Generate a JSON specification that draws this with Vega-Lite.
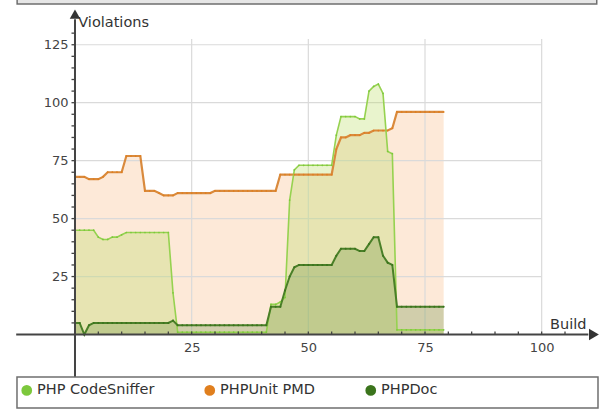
{
  "$schema": "https://vega.github.io/schema/vega-lite/v6.json",
  "width": 605,
  "height": 412,
  "autosize": {"type": "none"},
  "padding": 0,
  "background": "white",
  "config": {
    "view": {"stroke": null},
    "font": "DejaVu Sans",
    "text": {"font": "DejaVu Sans"},
    "axis": {"domain": false, "grid": false, "ticks": false, "titleOpacity": 0, "labelFont": "DejaVu Sans", "labelOverlap": false, "labelFlush": false}
  },
  "data": {
    "values": [
      {"b": 0, "pmd": 68, "cs": 45, "doc": 5},
      {"b": 1, "pmd": 68, "cs": 45, "doc": 5},
      {"b": 2, "pmd": 68, "cs": 45, "doc": 0},
      {"b": 3, "pmd": 67, "cs": 45, "doc": 4},
      {"b": 4, "pmd": 67, "cs": 45, "doc": 5},
      {"b": 5, "pmd": 67, "cs": 42, "doc": 5},
      {"b": 6, "pmd": 68, "cs": 41, "doc": 5},
      {"b": 7, "pmd": 70, "cs": 41, "doc": 5},
      {"b": 8, "pmd": 70, "cs": 42, "doc": 5},
      {"b": 9, "pmd": 70, "cs": 42, "doc": 5},
      {"b": 10, "pmd": 70, "cs": 43, "doc": 5},
      {"b": 11, "pmd": 77, "cs": 44, "doc": 5},
      {"b": 12, "pmd": 77, "cs": 44, "doc": 5},
      {"b": 13, "pmd": 77, "cs": 44, "doc": 5},
      {"b": 14, "pmd": 77, "cs": 44, "doc": 5},
      {"b": 15, "pmd": 62, "cs": 44, "doc": 5},
      {"b": 16, "pmd": 62, "cs": 44, "doc": 5},
      {"b": 17, "pmd": 62, "cs": 44, "doc": 5},
      {"b": 18, "pmd": 61, "cs": 44, "doc": 5},
      {"b": 19, "pmd": 60, "cs": 44, "doc": 5},
      {"b": 20, "pmd": 60, "cs": 44, "doc": 5},
      {"b": 21, "pmd": 60, "cs": 18, "doc": 6},
      {"b": 22, "pmd": 61, "cs": 1, "doc": 4},
      {"b": 23, "pmd": 61, "cs": 1, "doc": 4},
      {"b": 24, "pmd": 61, "cs": 1, "doc": 4},
      {"b": 25, "pmd": 61, "cs": 1, "doc": 4},
      {"b": 26, "pmd": 61, "cs": 1, "doc": 4},
      {"b": 27, "pmd": 61, "cs": 1, "doc": 4},
      {"b": 28, "pmd": 61, "cs": 1, "doc": 4},
      {"b": 29, "pmd": 61, "cs": 1, "doc": 4},
      {"b": 30, "pmd": 62, "cs": 1, "doc": 4},
      {"b": 31, "pmd": 62, "cs": 1, "doc": 4},
      {"b": 32, "pmd": 62, "cs": 1, "doc": 4},
      {"b": 33, "pmd": 62, "cs": 1, "doc": 4},
      {"b": 34, "pmd": 62, "cs": 1, "doc": 4},
      {"b": 35, "pmd": 62, "cs": 1, "doc": 4},
      {"b": 36, "pmd": 62, "cs": 1, "doc": 4},
      {"b": 37, "pmd": 62, "cs": 1, "doc": 4},
      {"b": 38, "pmd": 62, "cs": 1, "doc": 4},
      {"b": 39, "pmd": 62, "cs": 1, "doc": 4},
      {"b": 40, "pmd": 62, "cs": 1, "doc": 4},
      {"b": 41, "pmd": 62, "cs": 1, "doc": 4},
      {"b": 42, "pmd": 62, "cs": 13, "doc": 12},
      {"b": 43, "pmd": 62, "cs": 13, "doc": 12},
      {"b": 44, "pmd": 69, "cs": 14, "doc": 12},
      {"b": 45, "pmd": 69, "cs": 16, "doc": 19},
      {"b": 46, "pmd": 69, "cs": 58, "doc": 25},
      {"b": 47, "pmd": 69, "cs": 71, "doc": 29},
      {"b": 48, "pmd": 69, "cs": 73, "doc": 30},
      {"b": 49, "pmd": 69, "cs": 73, "doc": 30},
      {"b": 50, "pmd": 69, "cs": 73, "doc": 30},
      {"b": 51, "pmd": 69, "cs": 73, "doc": 30},
      {"b": 52, "pmd": 69, "cs": 73, "doc": 30},
      {"b": 53, "pmd": 69, "cs": 73, "doc": 30},
      {"b": 54, "pmd": 69, "cs": 73, "doc": 30},
      {"b": 55, "pmd": 69, "cs": 73, "doc": 30},
      {"b": 56, "pmd": 80, "cs": 86, "doc": 34},
      {"b": 57, "pmd": 85, "cs": 94, "doc": 37},
      {"b": 58, "pmd": 85, "cs": 94, "doc": 37},
      {"b": 59, "pmd": 86, "cs": 94, "doc": 37},
      {"b": 60, "pmd": 86, "cs": 94, "doc": 37},
      {"b": 61, "pmd": 86, "cs": 93, "doc": 36},
      {"b": 62, "pmd": 87, "cs": 93, "doc": 36},
      {"b": 63, "pmd": 87, "cs": 105, "doc": 39},
      {"b": 64, "pmd": 88, "cs": 107, "doc": 42},
      {"b": 65, "pmd": 88, "cs": 108, "doc": 42},
      {"b": 66, "pmd": 88, "cs": 104, "doc": 34},
      {"b": 67, "pmd": 88, "cs": 79, "doc": 31},
      {"b": 68, "pmd": 89, "cs": 78, "doc": 30},
      {"b": 69, "pmd": 96, "cs": 2, "doc": 12},
      {"b": 70, "pmd": 96, "cs": 2, "doc": 12},
      {"b": 71, "pmd": 96, "cs": 2, "doc": 12},
      {"b": 72, "pmd": 96, "cs": 2, "doc": 12},
      {"b": 73, "pmd": 96, "cs": 2, "doc": 12},
      {"b": 74, "pmd": 96, "cs": 2, "doc": 12},
      {"b": 75, "pmd": 96, "cs": 2, "doc": 12},
      {"b": 76, "pmd": 96, "cs": 2, "doc": 12},
      {"b": 77, "pmd": 96, "cs": 2, "doc": 12},
      {"b": 78, "pmd": 96, "cs": 2, "doc": 12},
      {"b": 79, "pmd": 96, "cs": 2, "doc": 12}
    ]
  },
  "layer": [
    {
      "mark": {"type": "area", "color": "#f7a25a", "fillOpacity": 0.24},
      "encoding": {
        "x": {"field": "b", "type": "quantitative", "scale": {"domain": [-16.07, 113.57], "nice": false, "zero": false},
          "axis": {"orient": "bottom", "offset": -77.5, "values": [25, 50, 75, 100],
            "domain": false, "grid": false, "ticks": false, "labelFontSize": 13,
            "labelColor": "#444", "labelPadding": 7, "title": null, "labelFlush": false, "labelOverlap": false, "labelFont": "DejaVu Sans", "zindex": 1}},
        "y": {"field": "pmd", "type": "quantitative", "scale": {"domain": [-33.43, 144.3], "nice": false, "zero": false},
          "axis": {"orient": "left", "offset": -75, "values": [25, 50, 75, 100, 125],
            "domain": false, "grid": false, "ticks": false, "labelFontSize": 13,
            "labelColor": "#444", "labelPadding": 7, "title": null, "labelFlush": false, "labelOverlap": false, "labelFont": "DejaVu Sans", "zindex": 1}},
        "y2": {"datum": 0}
      }
    },
    {
      "data": {"values": [{}]},
      "mark": {"type": "rect", "fill": "#e6e6e6", "stroke": "#6f6f6f", "strokeWidth": 1.5},
      "encoding": {
        "x": {"datum": -12.4, "type": "quantitative"},
        "x2": {"datum": 111.8},
        "y": {"datum": 142.6, "type": "quantitative"},
        "y2": {"datum": 150}
      }
    },
    {
      "data": {"values": [{"g": 25}, {"g": 50}, {"g": 75}, {"g": 100}]},
      "mark": {"type": "rule", "color": "#dadada", "strokeWidth": 1.2},
      "encoding": {
        "x": {"field": "g", "type": "quantitative"},
        "y": {"datum": 0, "type": "quantitative"},
        "y2": {"datum": 127.5}
      }
    },
    {
      "data": {"values": [{"g": 25}, {"g": 50}, {"g": 75}, {"g": 100}, {"g": 125}]},
      "mark": {"type": "rule", "color": "#dadada", "strokeWidth": 1.2},
      "encoding": {
        "y": {"field": "g", "type": "quantitative"},
        "x": {"datum": 0, "type": "quantitative"},
        "x2": {"datum": 100}
      }
    },
    {
      "mark": {"type": "area", "color": "#b5dc5a", "fillOpacity": 0.3},
      "encoding": {
        "x": {"field": "b", "type": "quantitative"},
        "y": {"field": "cs", "type": "quantitative"},
        "y2": {"datum": 0}
      }
    },
    {
      "mark": {"type": "area", "color": "#4e7e22", "fillOpacity": 0.25},
      "encoding": {
        "x": {"field": "b", "type": "quantitative"},
        "y": {"field": "doc", "type": "quantitative"},
        "y2": {"datum": 0}
      }
    },
    {
      "mark": {"type": "line", "color": "#d98a3d", "strokeWidth": 2.2},
      "encoding": {
        "x": {"field": "b", "type": "quantitative"},
        "y": {"field": "pmd", "type": "quantitative"}
      }
    },
    {
      "mark": {"type": "line", "color": "#96d250", "strokeWidth": 1.6},
      "encoding": {
        "x": {"field": "b", "type": "quantitative"},
        "y": {"field": "cs", "type": "quantitative"}
      }
    },
    {
      "mark": {"type": "line", "color": "#4a7f28", "strokeWidth": 2},
      "encoding": {
        "x": {"field": "b", "type": "quantitative"},
        "y": {"field": "doc", "type": "quantitative"}
      }
    },
    {
      "mark": {"type": "point", "filled": true, "size": 3, "opacity": 1},
      "encoding": {
        "x": {"field": "b", "type": "quantitative"},
        "y": {"field": "cs", "type": "quantitative"},
        "color": {"datum": "PHP CodeSniffer", "type": "nominal",
          "scale": {"domain": ["PHP CodeSniffer", "PHPUnit PMD", "PHPDoc"], "range": ["#7cc83c", "#e07f1e", "#3b741c"]},
          "legend": {"orient": "none", "legendX": 19.5, "legendY": 383, "direction": "horizontal", "columns": 3, "title": null,
            "symbolType": "circle", "symbolSize": 115, "symbolOpacity": 1, "symbolStrokeWidth": 0, "labelFontSize": 14.5, "labelColor": "#333",
            "labelFont": "DejaVu Sans", "labelOffset": 3, "columnPadding": 48, "padding": 0}}
      }
    },
    {
      "mark": {"type": "point", "filled": true, "size": 3, "opacity": 1},
      "encoding": {
        "x": {"field": "b", "type": "quantitative"},
        "y": {"field": "pmd", "type": "quantitative"},
        "color": {"datum": "PHPUnit PMD", "type": "nominal"}
      }
    },
    {
      "mark": {"type": "point", "filled": true, "size": 4, "opacity": 1},
      "encoding": {
        "x": {"field": "b", "type": "quantitative"},
        "y": {"field": "doc", "type": "quantitative"},
        "color": {"datum": "PHPDoc", "type": "nominal"}
      }
    },
    {
      "data": {"values": [{}]},
      "mark": {"type": "rule", "color": "#444", "strokeWidth": 2},
      "encoding": {
        "x": {"datum": -12.6, "type": "quantitative"},
        "x2": {"datum": 110},
        "y": {"datum": 0, "type": "quantitative"}
      }
    },
    {
      "data": {"values": [{}]},
      "mark": {"type": "rule", "color": "#444", "strokeWidth": 2},
      "encoding": {
        "x": {"datum": 0, "type": "quantitative"},
        "y": {"datum": -18.3, "type": "quantitative"},
        "y2": {"datum": 136}
      }
    },
    {
      "data": {"values": [{"t": 5}, {"t": 10}, {"t": 15}, {"t": 20}, {"t": 25}, {"t": 30}, {"t": 35}, {"t": 40}, {"t": 45}, {"t": 50}, {"t": 55}, {"t": 60}, {"t": 65}, {"t": 70}, {"t": 75}, {"t": 80}, {"t": 85}, {"t": 90}, {"t": 95}, {"t": 100}, {"t": 105}]},
      "mark": {"type": "rule", "color": "#444", "strokeWidth": 1.3},
      "encoding": {
        "x": {"field": "t", "type": "quantitative"},
        "y": {"datum": 0, "type": "quantitative"},
        "y2": {"datum": 1.3}
      }
    },
    {
      "data": {"values": [{"t": 5}, {"t": 10}, {"t": 15}, {"t": 20}, {"t": 25}, {"t": 30}, {"t": 35}, {"t": 40}, {"t": 45}, {"t": 50}, {"t": 55}, {"t": 60}, {"t": 65}, {"t": 70}, {"t": 75}, {"t": 80}, {"t": 85}, {"t": 90}, {"t": 95}, {"t": 100}, {"t": 105}, {"t": 110}, {"t": 115}, {"t": 120}, {"t": 125}, {"t": 130}]},
      "mark": {"type": "rule", "color": "#444", "strokeWidth": 1.3},
      "encoding": {
        "y": {"field": "t", "type": "quantitative"},
        "x": {"datum": -0.75, "type": "quantitative"},
        "x2": {"datum": 0}
      }
    },
    {
      "data": {"values": [{}]},
      "mark": {"type": "point", "shape": "triangle-right", "filled": true, "color": "#333", "size": 130, "opacity": 1},
      "encoding": {
        "x": {"datum": 111.2, "type": "quantitative"},
        "y": {"datum": 0, "type": "quantitative"}
      }
    },
    {
      "data": {"values": [{}]},
      "mark": {"type": "point", "shape": "triangle-up", "filled": true, "color": "#333", "size": 110, "opacity": 1},
      "encoding": {
        "x": {"datum": 0, "type": "quantitative"},
        "y": {"datum": 138.2, "type": "quantitative"}
      }
    },
    {
      "data": {"values": [{}]},
      "mark": {"type": "rect", "fill": "white", "stroke": "#6f6f6f", "strokeWidth": 1.5},
      "encoding": {
        "x": {"datum": -12.43, "type": "quantitative"},
        "x2": {"datum": 112.07},
        "y": {"datum": -18.33, "type": "quantitative"},
        "y2": {"datum": -31.71}
      }
    },
    {
      "data": {"values": [{"t": "Violations", "tx": 0.7, "ty": 132.8}]},
      "mark": {"type": "text", "align": "left", "baseline": "alphabetic", "fontSize": 14.5, "color": "#333", "font": "DejaVu Sans"},
      "encoding": {
        "x": {"field": "tx", "type": "quantitative"},
        "y": {"field": "ty", "type": "quantitative"},
        "text": {"field": "t"}
      }
    },
    {
      "data": {"values": [{"t": "Build", "tx": 101.8, "ty": 2.2}]},
      "mark": {"type": "text", "align": "left", "baseline": "alphabetic", "fontSize": 14.5, "color": "#333", "font": "DejaVu Sans"},
      "encoding": {
        "x": {"field": "tx", "type": "quantitative"},
        "y": {"field": "ty", "type": "quantitative"},
        "text": {"field": "t"}
      }
    }
  ]
}
